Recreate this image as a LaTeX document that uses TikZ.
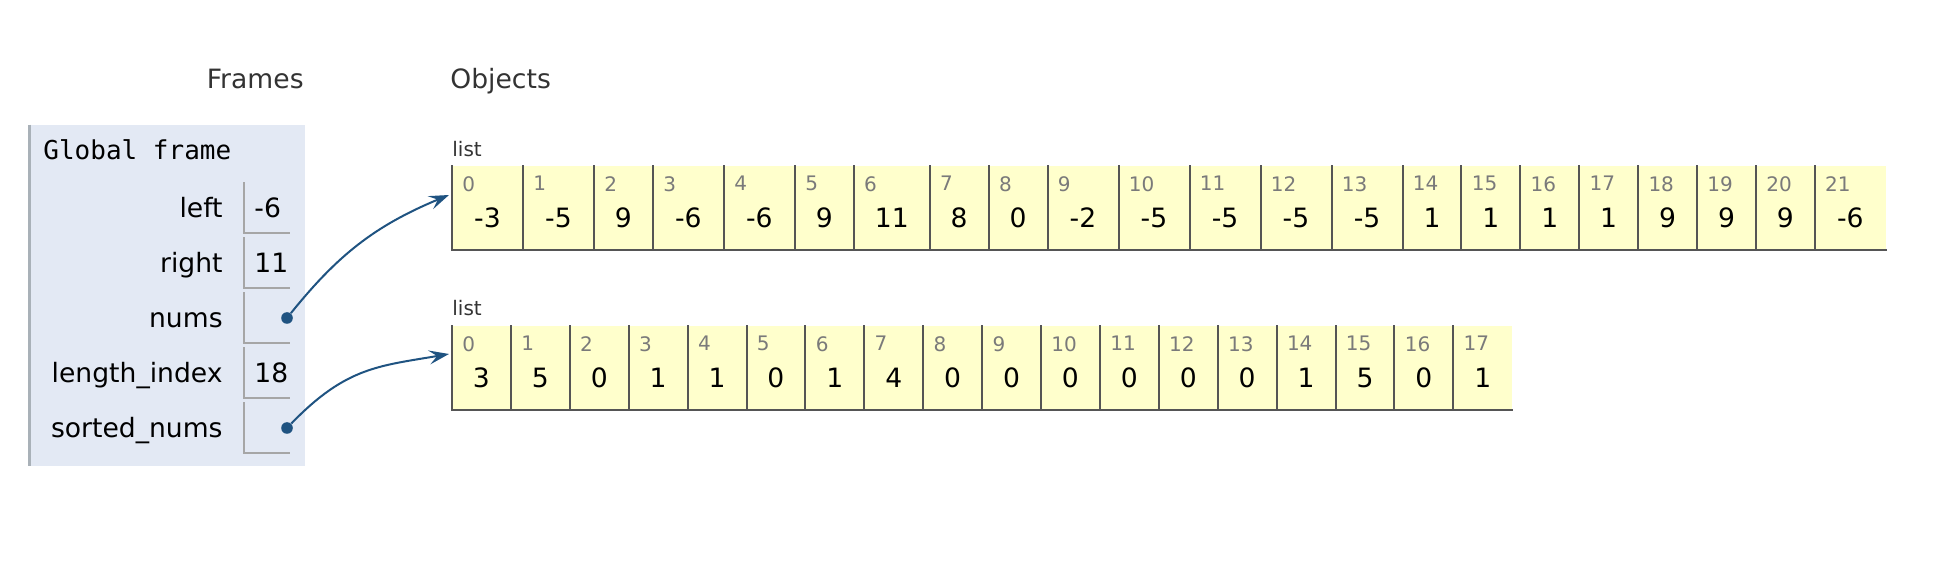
\documentclass[tikz,border=0pt]{standalone}
\usepackage{fontspec}
\setmainfont{DejaVu Sans}
\setmonofont{DejaVu Sans Mono}
\usetikzlibrary{positioning,arrows.meta}

\definecolor{framebg}{HTML}{E3E9F4}
\definecolor{framebar}{HTML}{A9B1B8}
\definecolor{boxgray}{HTML}{A6A6A6}
\definecolor{cellbg}{HTML}{FFFFCC}
\definecolor{cellgray}{HTML}{555555}
\definecolor{idxgray}{HTML}{7A7A7A}
\definecolor{hdrgray}{HTML}{333333}
\definecolor{refblue}{HTML}{1F5381}

\tikzset{
  lbline/.style={append after command={(\tikzlastnode.north west) edge[#1] (\tikzlastnode.south west)
    (\tikzlastnode.south west) edge[#1] (\tikzlastnode.south east)}},
  cellline/.style={draw=cellgray,line width=1pt,line cap=rect},
  boxline/.style={draw=boxgray,line width=1pt,line cap=rect},
  cell/.style={fill=cellbg,inner sep=0pt,outer sep=0pt,text height=31pt,text depth=11pt,
    font=\fontsize{13.3}{16}\selectfont,lbline=cellline},
  one/.style={minimum width=29.45pt},
  neg/.style={minimum width=35.5pt},
  two/.style={minimum width=37.95pt},
  idx/.style={anchor=north west,inner sep=0pt,xshift=5pt,yshift=-5pt,text=idxgray,
    font=\fontsize{10}{12}\selectfont},
  tag/.style={anchor=base west,inner sep=0pt,text=hdrgray,font=\fontsize{10}{12}\selectfont},
  hdr/.style={inner sep=0pt,text=hdrgray,font=\fontsize{13.3}{16}\selectfont},
  var/.style={anchor=base east,inner sep=0pt,font=\fontsize{13.3}{16}\selectfont},
  val/.style={anchor=west,inner sep=0pt,xshift=5pt,font=\fontsize{13.3}{16}\selectfont},
  valbox/.style={minimum width=22.5pt,minimum height=25pt,inner sep=0pt,outer sep=0pt,lbline=boxline},
  ptr/.style={circle,fill=refblue,inner sep=0pt,minimum size=5.8pt},
  ref/.style={draw=refblue,line width=1pt,-{Stealth[length=10pt,width=7pt,inset=4pt]}}
}

\begin{document}
\begin{tikzpicture}[x=0.5pt,y=-0.5pt]
\useasboundingbox (0,0) rectangle (1940,566);
\node (frames) at (304,89) [hdr,anchor=base east] {Frames};
\node (objects) at (450,89) [hdr,anchor=base west] {Objects};
% global frame
\node (global) at (166.5,295.5) [fill=framebg,inner sep=0pt,minimum width=138.5pt,minimum height=170.5pt] {};
\draw [framebar,line width=1.5pt] ([xshift=0.75pt]global.north west) -- ([xshift=0.75pt]global.south west);
\node (gtitle) at (43,160) [anchor=base west,inner sep=0pt,font=\ttfamily\fontsize{13}{16}\selectfont] {Global frame};
\node (leftname) at (223,218) [var] {left};
\node (rightname) at (223,273) [var] {right};
\node (numsname) at (223,328) [var] {nums};
\node (lenname) at (223,383) [var] {length\_index};
\node (sortedname) at (223,438) [var] {sorted\_nums};
\node (leftval) at (266.5,208) [valbox,label={[val]west:-6}] {};
\node (rightval) at (266.5,263) [valbox,label={[val]west:11}] {};
\node (numsval) at (266.5,318) [valbox] {};
\node (lenval) at (266.5,373) [valbox,label={[val]west:18}] {};
\node (sortedval) at (266.5,428) [valbox] {};
\node (numsdot) at (287,318) [ptr] {};
\node (sorteddot) at (287,428) [ptr] {};
% list nums
\node (numslist) at (452,157) [tag] {list};
\node (0n) at (452,166) [cell,neg,anchor=north west,label={[idx]north west:0}] {-3};
\node (1n) [cell,neg,right=0pt of 0n,label={[idx]north west:1}] {-5};
\node (2n) [cell,one,right=0pt of 1n,label={[idx]north west:2}] {9};
\node (3n) [cell,neg,right=0pt of 2n,label={[idx]north west:3}] {-6};
\node (4n) [cell,neg,right=0pt of 3n,label={[idx]north west:4}] {-6};
\node (5n) [cell,one,right=0pt of 4n,label={[idx]north west:5}] {9};
\node (6n) [cell,two,right=0pt of 5n,label={[idx]north west:6}] {11};
\node (7n) [cell,one,right=0pt of 6n,label={[idx]north west:7}] {8};
\node (8n) [cell,one,right=0pt of 7n,label={[idx]north west:8}] {0};
\node (9n) [cell,neg,right=0pt of 8n,label={[idx]north west:9}] {-2};
\node (10n) [cell,neg,right=0pt of 9n,label={[idx]north west:10}] {-5};
\node (11n) [cell,neg,right=0pt of 10n,label={[idx]north west:11}] {-5};
\node (12n) [cell,neg,right=0pt of 11n,label={[idx]north west:12}] {-5};
\node (13n) [cell,neg,right=0pt of 12n,label={[idx]north west:13}] {-5};
\node (14n) [cell,one,right=0pt of 13n,label={[idx]north west:14}] {1};
\node (15n) [cell,one,right=0pt of 14n,label={[idx]north west:15}] {1};
\node (16n) [cell,one,right=0pt of 15n,label={[idx]north west:16}] {1};
\node (17n) [cell,one,right=0pt of 16n,label={[idx]north west:17}] {1};
\node (18n) [cell,one,right=0pt of 17n,label={[idx]north west:18}] {9};
\node (19n) [cell,one,right=0pt of 18n,label={[idx]north west:19}] {9};
\node (20n) [cell,one,right=0pt of 19n,label={[idx]north west:20}] {9};
\node (21n) [cell,neg,right=0pt of 20n,label={[idx]north west:21}] {-6};
% list sorted_nums
\node (sortedlist) at (452,316) [tag] {list};
\node (0s) at (452,326) [cell,one,anchor=north west,label={[idx]north west:0}] {3};
\node (1s) [cell,one,right=0pt of 0s,label={[idx]north west:1}] {5};
\node (2s) [cell,one,right=0pt of 1s,label={[idx]north west:2}] {0};
\node (3s) [cell,one,right=0pt of 2s,label={[idx]north west:3}] {1};
\node (4s) [cell,one,right=0pt of 3s,label={[idx]north west:4}] {1};
\node (5s) [cell,one,right=0pt of 4s,label={[idx]north west:5}] {0};
\node (6s) [cell,one,right=0pt of 5s,label={[idx]north west:6}] {1};
\node (7s) [cell,one,right=0pt of 6s,label={[idx]north west:7}] {4};
\node (8s) [cell,one,right=0pt of 7s,label={[idx]north west:8}] {0};
\node (9s) [cell,one,right=0pt of 8s,label={[idx]north west:9}] {0};
\node (10s) [cell,one,right=0pt of 9s,label={[idx]north west:10}] {0};
\node (11s) [cell,one,right=0pt of 10s,label={[idx]north west:11}] {0};
\node (12s) [cell,one,right=0pt of 11s,label={[idx]north west:12}] {0};
\node (13s) [cell,one,right=0pt of 12s,label={[idx]north west:13}] {0};
\node (14s) [cell,one,right=0pt of 13s,label={[idx]north west:14}] {1};
\node (15s) [cell,one,right=0pt of 14s,label={[idx]north west:15}] {5};
\node (16s) [cell,one,right=0pt of 15s,label={[idx]north west:16}] {0};
\node (17s) [cell,one,right=0pt of 16s,label={[idx]north west:17}] {1};
% references
\draw [ref] (numsdot) .. controls (337,256) and (374,226) .. ([xshift=-1.5pt,yshift=-14.5pt]0n.north west);
\draw [ref] (sorteddot) .. controls (346,367) and (379,366) .. ([xshift=-1.5pt,yshift=-14pt]0s.north west);
\end{tikzpicture}
\end{document}
